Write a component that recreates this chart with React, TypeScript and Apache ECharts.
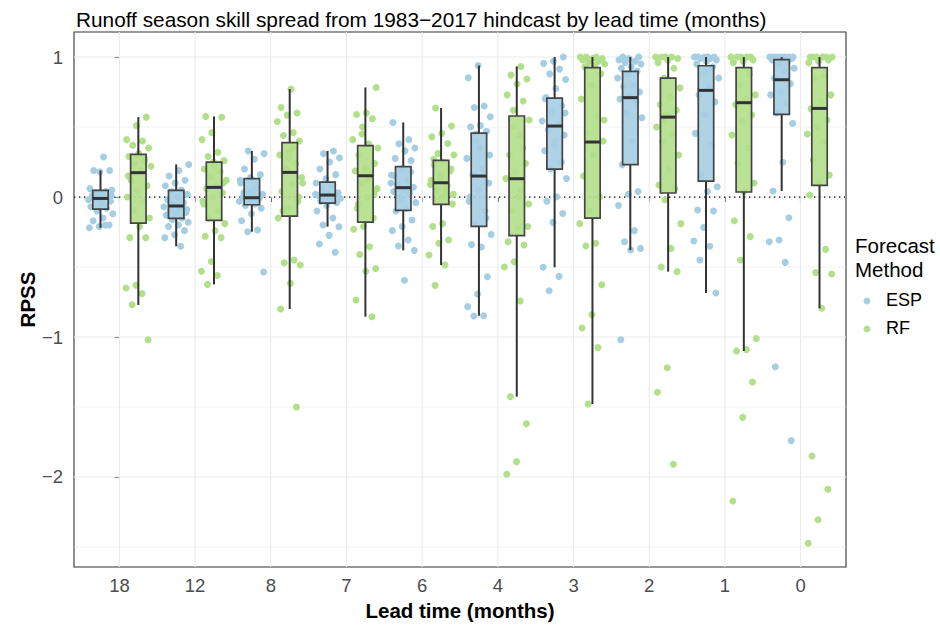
import React, { useEffect, useRef } from "react";
import * as echarts from "echarts";

// ---------- data ----------
const leadTimes = ["18", "12", "8", "7", "6", "4", "3", "2", "1", "0"];
const methods = ["ESP", "RF"];

// box statistics (lower whisker, Q1, median, Q3, upper whisker)
const espLow = [-0.22, -0.352, -0.248, -0.212, -0.381, -0.848, -0.502, -0.379, -0.686, 0.043];
const espQ1 = [-0.086, -0.152, -0.055, -0.043, -0.095, -0.21, 0.2, 0.231, 0.114, 0.59];
const espMedian = [-0.01, -0.064, -0.005, 0.014, 0.067, 0.15, 0.507, 0.71, 0.762, 0.838];
const espQ3 = [0.048, 0.048, 0.131, 0.107, 0.217, 0.457, 0.707, 0.898, 0.938, 0.981];
const espHigh = [0.19, 0.233, 0.329, 0.329, 0.533, 0.94, 1.0, 1.0, 1.0, 1.0];

const rfLow = [-0.771, -0.624, -0.8, -0.855, -0.486, -1.426, -1.479, -0.533, -1.1, -0.795];
const rfQ1 = [-0.186, -0.167, -0.136, -0.179, -0.052, -0.276, -0.15, 0.029, 0.036, 0.083];
const rfMedian = [0.174, 0.069, 0.176, 0.152, 0.102, 0.131, 0.393, 0.571, 0.674, 0.633];
const rfQ3 = [0.305, 0.25, 0.388, 0.367, 0.262, 0.579, 0.924, 0.85, 0.924, 0.924];
const rfHigh = [0.571, 0.576, 0.771, 0.783, 0.636, 0.933, 1.0, 1.0, 1.0, 1.0];

// individual RPSS values per lead time
const espPoints = [
  [0.286, 0.19, 0.19, 0.18, 0.06, 0.04, 0.03, 0.05, 0.02, 0.01, 0.0, -0.01, -0.02, 0.0, -0.01, -0.03, -0.05, -0.07, -0.08, -0.1, -0.12, -0.15, -0.17, -0.2, -0.21, -0.22, -0.2, 0.03, 0.01, -0.04],
  [0.233, 0.19, 0.15, 0.12, 0.1, 0.08, 0.05, 0.04, 0.02, 0.0, -0.02, -0.04, -0.06, -0.07, -0.08, -0.1, -0.11, -0.12, -0.13, -0.15, -0.16, -0.18, -0.2, -0.21, -0.24, -0.27, -0.29, -0.352, -0.05, -0.09],
  [0.329, 0.31, 0.27, 0.2, 0.16, 0.14, 0.1, 0.074, 0.04, 0.02, 0.01, 0.0, -0.01, -0.02, -0.03, -0.05, -0.06, -0.08, -0.12, -0.17, -0.235, -0.248, -0.536, 0.05, 0.03, 0.0, -0.01, 0.12, -0.04, 0.02],
  [0.329, 0.31, 0.28, 0.25, 0.2, 0.16, 0.13, 0.1, 0.08, 0.05, 0.03, 0.02, 0.01, 0.01, 0.0, -0.01, -0.02, -0.03, -0.04, -0.06, -0.1, -0.15, -0.2, -0.212, -0.274, -0.336, -0.395, 0.0, 0.02, -0.01],
  [0.533, 0.41, 0.38, 0.35, 0.33, 0.276, 0.26, 0.2, 0.157, 0.12, 0.09, 0.07, 0.05, 0.04, 0.03, 0.0, -0.04, -0.08, -0.1, -0.164, -0.21, -0.24, -0.307, -0.35, -0.381, -0.595, 0.15, 0.18, -0.02, 0.1],
  [0.94, 0.852, 0.65, 0.64, 0.574, 0.51, 0.5, 0.47, 0.4, 0.276, 0.2, 0.157, 0.1, 0.05, -0.03, -0.1, -0.19, -0.267, -0.357, -0.34, -0.569, -0.693, -0.783, -0.848, -0.85, 0.3, 0.35, 0.0, -0.15, 0.45],
  [1.0, 0.97, 0.955, 0.914, 0.88, 0.84, 0.776, 0.71, 0.652, 0.61, 0.543, 0.52, 0.48, 0.443, 0.371, 0.33, 0.252, 0.2, 0.133, 0.002, -0.03, -0.117, -0.181, -0.502, -0.567, -0.669, 0.6, 0.4, 0.7, 0.25],
  [1.0, 1.0, 0.99, 0.98, 0.97, 0.96, 0.95, 0.93, 0.92, 0.9, 0.88, 0.85, 0.8, 0.79, 0.75, 0.72, 0.7, 0.68, 0.6, 0.567, 0.4, 0.23, 0.04, 0.02, -0.06, -0.24, -0.32, -0.367, -0.379, -1.02],
  [1.0, 1.0, 1.0, 1.0, 1.0, 0.99, 0.99, 0.98, 0.97, 0.95, 0.93, 0.883, 0.85, 0.79, 0.73, 0.68, 0.586, 0.455, 0.371, 0.157, 0.074, 0.04, -0.093, -0.1, -0.217, -0.314, -0.352, -0.45, -0.686, 0.9],
  [1.0, 1.0, 1.0, 1.0, 1.0, 1.0, 1.0, 1.0, 0.99, 0.99, 0.98, 0.97, 0.95, 0.92, 0.9, 0.848, 0.81, 0.75, 0.73, 0.67, 0.6, 0.526, 0.248, 0.043, -0.148, -0.307, -0.319, -0.467, -1.212, -1.74],
];

const rfPoints = [
  [0.571, 0.51, 0.41, 0.4, 0.37, 0.35, 0.31, 0.29, 0.27, 0.24, 0.22, 0.19, 0.12, 0.08, 0.04, 0.0, -0.03, -0.1, -0.15, -0.21, -0.29, -0.29, -0.63, -0.65, -0.69, -0.77, -1.02, 0.3, 0.15, 0.25],
  [0.576, 0.57, 0.46, 0.41, 0.32, 0.29, 0.26, 0.22, 0.2, 0.18, 0.145, 0.12, 0.08, 0.06, 0.03, 0.0, -0.03, -0.1, -0.15, -0.19, -0.24, -0.28, -0.29, -0.46, -0.53, -0.56, -0.624, 0.1, 0.25, -0.05],
  [0.771, 0.64, 0.6, 0.585, 0.54, 0.46, 0.44, 0.4, 0.326, 0.3, 0.24, 0.19, 0.14, 0.09, 0.04, -0.03, -0.08, -0.15, -0.45, -0.47, -0.486, -0.617, -0.8, -1.5, 0.2, 0.1, 0.35, -0.1, 0.0, 0.28],
  [0.783, 0.6, 0.59, 0.56, 0.5, 0.41, 0.38, 0.3, 0.24, 0.2, 0.186, 0.16, 0.1, 0.06, 0.0, -0.08, -0.15, -0.21, -0.23, -0.355, -0.41, -0.51, -0.53, -0.736, -0.855, 0.45, 0.35, 0.12, -0.05, 0.02],
  [0.636, 0.507, 0.455, 0.43, 0.383, 0.31, 0.3, 0.25, 0.23, 0.186, 0.14, 0.09, 0.04, -0.03, -0.05, -0.19, -0.21, -0.307, -0.33, -0.414, -0.486, -0.631, 0.2, 0.16, 0.12, 0.08, 0.05, 0.02, 0.0, 0.27],
  [0.933, 0.871, 0.843, 0.807, 0.73, 0.686, 0.62, 0.55, 0.443, 0.3, 0.24, 0.18, 0.133, 0.05, -0.1, -0.21, -0.22, -0.319, -0.343, -0.462, -0.5, -0.743, -1.426, -1.62, -1.89, -1.98, 0.35, 0.5, -0.05, 0.0],
  [1.0, 1.0, 1.0, 0.99, 0.99, 0.98, 0.97, 0.96, 0.95, 0.94, 0.93, 0.88, 0.8, 0.7, 0.58, 0.46, 0.4, 0.3, 0.15, 0.0, -0.1, -0.19, -0.33, -0.35, -0.626, -0.84, -0.936, -1.076, -1.479, 0.55],
  [1.0, 1.0, 1.0, 1.0, 0.99, 0.98, 0.96, 0.92, 0.85, 0.78, 0.71, 0.66, 0.62, 0.586, 0.5, 0.45, 0.395, 0.3, 0.2, 0.086, 0.06, -0.02, -0.19, -0.367, -0.5, -0.533, -1.219, -1.395, -1.909, 0.55],
  [1.0, 1.0, 1.0, 1.0, 1.0, 0.98, 0.97, 0.96, 0.876, 0.8, 0.73, 0.7, 0.66, 0.586, 0.54, 0.443, 0.35, 0.24, 0.1, 0.04, -0.169, -0.283, -0.45, -1.01, -1.09, -1.1, -1.321, -1.574, -2.171, 0.9],
  [1.0, 1.0, 1.0, 1.0, 1.0, 1.0, 0.98, 0.97, 0.96, 0.867, 0.85, 0.73, 0.68, 0.63, 0.55, 0.5, 0.45, 0.395, 0.264, 0.157, 0.1, 0.014, -0.374, -0.54, -0.55, -0.795, -1.85, -2.088, -2.305, -2.474],
];

const yTickValues = [-2, -1, 0, 1];
const yMinorValues = [-2.5, -1.5, -0.5, 0.5];

// ---------- styling ----------
const FONT = "'Liberation Sans', Arial, Helvetica, sans-serif";
const COLOR_ESP = "#A6CEE3";
const COLOR_RF = "#B2DF8A";
const FILL_ESP = "rgba(166,206,227,0.9)";
const FILL_RF = "rgba(178,223,138,0.9)";
const DODGE = 0.25;
const BOX_HALF = 0.102;
const JITTER = 0.17;
const X_MIN = -0.6;
const X_MAX = 9.6;
const Y_MIN = -2.643;
const Y_MAX = 1.179;

const jit = (i: number, g: number, m: number) =>
  ((((i + 1) * 0.6180339887 + g * 0.37 + m * 0.19) % 1) - 0.5) * 2 * JITTER;

const fmtMinus = (v: number) => (v < 0 ? "\u2212" + Math.abs(v) : String(v));

function buildOption(): any {
  const boxRows = (low: number[], q1: number[], med: number[], q3: number[], hi: number[]) =>
    leadTimes.map((_, g) => [g, low[g], q1[g], med[g], q3[g], hi[g]]);

  const pointRows = (pts: number[][], m: number, offset: number) => {
    const out: number[][] = [];
    pts.forEach((arr, g) => arr.forEach((v, i) => out.push([g + offset + jit(i, g, m), v])));
    return out;
  };

  const boxRender = (offset: number, fill: string) => (params: any, api: any) => {
    const x = api.value(0) + offset;
    const pLow = api.coord([x, api.value(1)]);
    const pQ1 = api.coord([x, api.value(2)]);
    const pMed = api.coord([x, api.value(3)]);
    const pQ3 = api.coord([x, api.value(4)]);
    const pHi = api.coord([x, api.value(5)]);
    const hw = api.size([BOX_HALF, 0])[0];
    const cx = pMed[0];
    return {
      type: "group",
      children: [
        { type: "line", shape: { x1: cx, y1: pLow[1], x2: cx, y2: pQ1[1] }, style: { stroke: "#333333", lineWidth: 2 } },
        { type: "line", shape: { x1: cx, y1: pQ3[1], x2: cx, y2: pHi[1] }, style: { stroke: "#333333", lineWidth: 2 } },
        {
          type: "rect",
          shape: { x: cx - hw, y: pQ3[1], width: 2 * hw, height: pQ1[1] - pQ3[1] },
          style: { fill, stroke: "#444444", lineWidth: 1.7 },
        },
        { type: "line", shape: { x1: cx - hw, y1: pMed[1], x2: cx + hw, y2: pMed[1] }, style: { stroke: "#333333", lineWidth: 3 } },
      ],
    };
  };

  const hGridRender = (width: number) => (params: any, api: any) => {
    const cs = params.coordSys;
    const y = api.coord([0, api.value(0)])[1];
    return { type: "line", shape: { x1: cs.x, y1: y, x2: cs.x + cs.width, y2: y }, style: { stroke: "#EBEBEB", lineWidth: width } };
  };

  const vGridRender = (params: any, api: any) => {
    const cs = params.coordSys;
    const x = api.coord([api.value(0), 0])[0];
    return { type: "line", shape: { x1: x, y1: cs.y, x2: x, y2: cs.y + cs.height }, style: { stroke: "#EBEBEB", lineWidth: 1.1 } };
  };

  const zeroRender = (params: any, api: any) => {
    const cs = params.coordSys;
    const y = api.coord([0, api.value(0)])[1];
    return { type: "line", shape: { x1: cs.x, y1: y, x2: cs.x + cs.width, y2: y }, style: { stroke: "#000000", lineWidth: 1.3, lineDash: [1.3, 3.7] } };
  };

  const labelStyle = { color: "#4D4D4D", fontSize: 18.5, fontFamily: FONT };

  return {
    animation: false,
    backgroundColor: "#ffffff",
    textStyle: { fontFamily: FONT },
    title: {
      text: "Runoff season skill spread from 1983\u22122017 hindcast by lead time (months)",
      left: 71,
      top: 4,
      textStyle: { fontSize: 20.8, fontWeight: "normal", color: "#000000", fontFamily: FONT },
    },
    grid: {
      left: 74,
      right: 94,
      top: 32,
      bottom: 60,
      show: true,
      borderColor: "#333333",
      borderWidth: 1.1,
      backgroundColor: "#ffffff",
      containLabel: false,
    },
    xAxis: {
      type: "value",
      min: X_MIN,
      max: X_MAX,
      name: "Lead time (months)",
      nameLocation: "middle",
      nameGap: 33,
      nameMoveOverlap: false,
      nameTextStyle: { fontSize: 20.5, fontWeight: "bold", color: "#000000", fontFamily: FONT },
      axisLine: { show: false },
      splitLine: { show: false },
      axisTick: { show: true, length: 5, lineStyle: { color: "#333333", width: 1.1 }, customValues: leadTimes.map((_, i) => i) },
      axisLabel: {
        ...labelStyle,
        margin: 9,
        customValues: leadTimes.map((_, i) => i),
        formatter: (v: number) => leadTimes[Math.round(v)] ?? "",
      },
    },
    yAxis: {
      type: "value",
      min: Y_MIN,
      max: Y_MAX,
      name: "RPSS",
      nameLocation: "middle",
      nameGap: 36,
      nameMoveOverlap: false,
      nameRotate: 90,
      nameTextStyle: { fontSize: 20.5, fontWeight: "bold", color: "#000000", fontFamily: FONT },
      axisLine: { show: false },
      splitLine: { show: false },
      axisTick: { show: true, length: 5, lineStyle: { color: "#333333", width: 1.1 }, customValues: yTickValues },
      axisLabel: { ...labelStyle, margin: 11, customValues: yTickValues, formatter: (v: number) => fmtMinus(v) },
    },
    series: [
      { type: "custom", silent: true, z: 1, renderItem: hGridRender(0.6), data: yMinorValues.map((v) => [v]), encode: { y: 0 } },
      { type: "custom", silent: true, z: 1, renderItem: hGridRender(1.1), data: yTickValues.map((v) => [v]), encode: { y: 0 } },
      { type: "custom", silent: true, z: 1, renderItem: vGridRender, data: leadTimes.map((_, i) => [i]), encode: { x: 0 } },
      { type: "custom", silent: true, z: 2, renderItem: zeroRender, data: [[0]], encode: { y: 0 } },
      {
        name: methods[0],
        type: "scatter",
        silent: true,
        z: 3,
        symbolSize: 7,
        itemStyle: { color: COLOR_ESP, opacity: 1 },
        data: pointRows(espPoints, 0, -DODGE),
      },
      {
        name: methods[1],
        type: "scatter",
        silent: true,
        z: 3,
        symbolSize: 7,
        itemStyle: { color: COLOR_RF, opacity: 1 },
        data: pointRows(rfPoints, 1, DODGE),
      },
      {
        type: "custom",
        silent: true,
        z: 4,
        renderItem: boxRender(-DODGE, FILL_ESP),
        data: boxRows(espLow, espQ1, espMedian, espQ3, espHigh),
        encode: { x: 0, y: [1, 2, 3, 4, 5] },
      },
      {
        type: "custom",
        silent: true,
        z: 4,
        renderItem: boxRender(DODGE, FILL_RF),
        data: boxRows(rfLow, rfQ1, rfMedian, rfQ3, rfHigh),
        encode: { x: 0, y: [1, 2, 3, 4, 5] },
      },
    ],
    graphic: [
      { type: "text", left: 855, top: 235, style: { text: "Forecast", fontSize: 20.5, fontFamily: FONT, fill: "#000000" } },
      { type: "text", left: 855, top: 259, style: { text: "Method", fontSize: 20.5, fontFamily: FONT, fill: "#000000" } },
      { type: "circle", shape: { cx: 867, cy: 301, r: 3.4 }, style: { fill: COLOR_ESP } },
      { type: "text", left: 886, top: 291, style: { text: methods[0], fontSize: 18, fontFamily: FONT, fill: "#000000" } },
      { type: "circle", shape: { cx: 867, cy: 329, r: 3.4 }, style: { fill: COLOR_RF } },
      { type: "text", left: 886, top: 319, style: { text: methods[1], fontSize: 18, fontFamily: FONT, fill: "#000000" } },
    ],
  };
}

export default function App() {
  const ref = useRef<HTMLDivElement>(null);
  useEffect(() => {
    if (!ref.current) return;
    const chart = echarts.init(ref.current, undefined, { renderer: "svg" });
    chart.setOption(buildOption());
    return () => chart.dispose();
  }, []);
  return <div ref={ref} style={{ position: "absolute", left: 0, top: 0, width: 940, height: 627 }} />;
}
